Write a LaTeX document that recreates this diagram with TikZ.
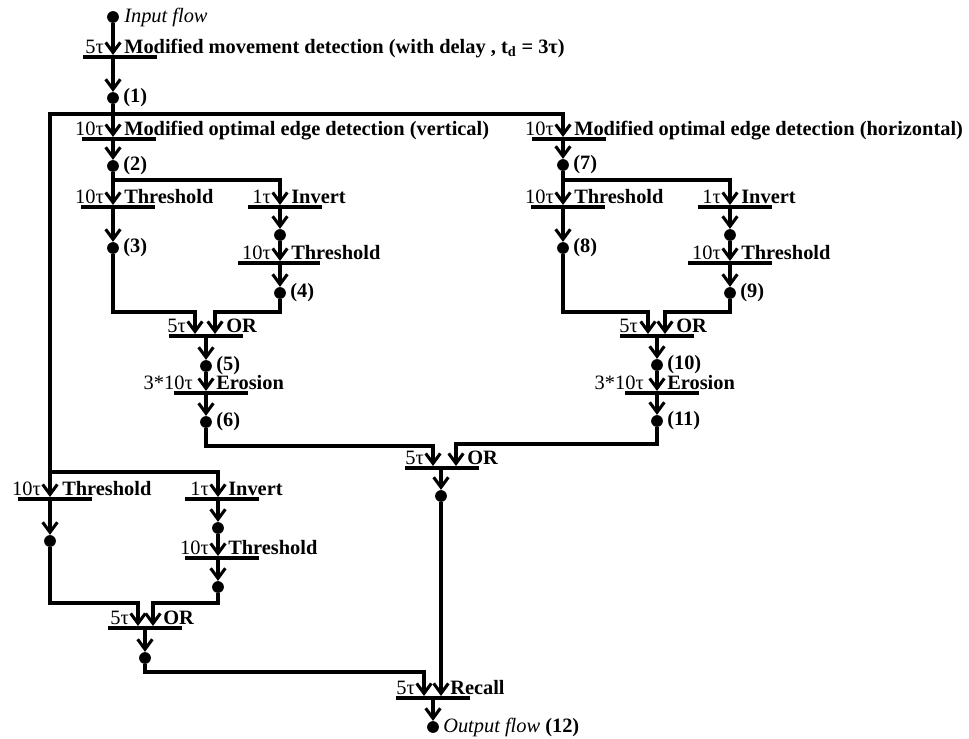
\documentclass[tikz,border=0pt]{standalone}
\usepackage{fontspec}
\setmainfont{Liberation Serif}
\usepackage{tikz}
\usetikzlibrary{arrows.meta, positioning}
\newcommand\fs{\fontsize{15.3}{17}\selectfont}

\begin{document}
\begin{tikzpicture}[x=0.75pt, y=-0.75pt,
    pl/.style={circle, fill=black, inner sep=0pt, minimum size=8.8pt},
    tbar/.style={rectangle, fill=black, inner sep=0pt, minimum height=2.6pt, minimum width=55.5pt},
    dly/.style={font=\fs, inner sep=0pt, anchor=base east},
    lbl/.style={font=\fs\bfseries, inner sep=0pt, anchor=base west},
    num/.style={font=\fs\bfseries, inner sep=0pt, anchor=west},
    wire/.style={line width=2.3pt},
    flow/.style={line width=2.3pt, -{Straight Barb[length=7.5pt, width=11pt]}}
]
    \useasboundingbox (0,0) rectangle (969,738);

    % Entrée et détection de mouvement
    \node[pl] (pin) at (113,17) {};
    \node[font=\fs\itshape, inner sep=0pt, anchor=west] at (124,17) {Input flow};
    \node[tbar] (t1) at (120,57) {};
    \node[dly] at (104,53.5) {5τ};
    \node[lbl] at (124,53.5) {Modified movement detection (with delay , t\textsubscript{d} = 3τ)};
    \node[pl] (p1) at (113,98) {};
    \node[num] at (123,98) {(1)};

    \draw[flow] (pin) -- (t1.north -| pin);
    \draw[flow] (t1.south -| p1) -- (p1);

    % Points de branchement
    \coordinate (jl) at (50,114);
    \coordinate (jr) at (563,114);
    \coordinate (jb) at (50,472);

    % Branche verticale
    \node[tbar] (t2) at (119,139) {};
    \node[dly] at (104,135.5) {10τ};
    \node[lbl] at (124,135.5) {Modified optimal edge detection (vertical)};
    \node[pl] (p2) at (113,166) {};
    \node[num] at (123,166) {(2)};

    \node[tbar] (t3) at (118,207) {};
    \node[dly] at (104,203.5) {10τ};
    \node[lbl] at (124,203.5) {Threshold};
    \node[pl] (p3) at (113,248) {};
    \node[num] at (123,248) {(3)};

    \coordinate (s2) at (280,180);
    \node[tbar] (t3i) at (285,207) {};
    \node[dly] at (271,203.5) {1τ};
    \node[lbl] at (291,203.5) {Invert};
    \node[pl] (p3i) at (280,235) {};
    \node[tbar, minimum width=61.5pt] (t4) at (279,263) {};
    \node[dly] at (271,259.5) {10τ};
    \node[lbl] at (291,259.5) {Threshold};
    \node[pl] (p4) at (280,293) {};
    \node[num] at (290,293) {(4)};

    \coordinate (m3) at (195,312);
    \coordinate (m4) at (215,312);
    \node[tbar] (t5) at (206,336) {};
    \node[dly] at (186,332.5) {5τ};
    \node[lbl] at (226,332.5) {OR};
    \node[pl] (p5) at (206,366) {};
    \node[num] at (216,366) {(5)};

    \node[tbar] (t6) at (211,393) {};
    \node[dly] at (193,389.5) {3*10τ};
    \node[lbl] at (216,389.5) {Erosion};
    \node[pl] (p6) at (206,422) {};
    \node[num] at (216,422) {(6)};

    \draw[flow] (p1) -- (t2.north -| p1);
    \draw[flow] (t2.south -| p2) -- (p2);
    \draw[flow] (p2) -- (t3.north -| p2);
    \draw[flow] (p2) |- (s2) -- (t3i.north -| s2);
    \draw[flow] (t3.south -| p3) -- (p3);
    \draw[flow] (t3i.south -| p3i) -- (p3i);
    \draw[flow] (p3i) -- (t4.north -| p3i);
    \draw[flow] (t4.south -| p4) -- (p4);
    \draw[flow] (p3) |- (m3) -- (t5.north -| m3);
    \draw[flow] (p4) |- (m4) -- (t5.north -| m4);
    \draw[flow] (t5.south -| p5) -- (p5);
    \draw[flow] (p5) -- (t6.north -| p5);
    \draw[flow] (t6.south -| p6) -- (p6);

    % Branche horizontale
    \node[tbar] (t7) at (569,139) {};
    \node[dly] at (554,135.5) {10τ};
    \node[lbl] at (574,135.5) {Modified optimal edge detection (horizontal)};
    \node[pl] (p7) at (563,165) {};
    \node[num] at (573,165) {(7)};

    \node[tbar] (t8) at (568,207) {};
    \node[dly] at (554,203.5) {10τ};
    \node[lbl] at (574,203.5) {Threshold};
    \node[pl] (p8) at (563,248) {};
    \node[num] at (573,248) {(8)};

    \coordinate (s7) at (730,180);
    \node[tbar] (t8i) at (735,207) {};
    \node[dly] at (721,203.5) {1τ};
    \node[lbl] at (741,203.5) {Invert};
    \node[pl] (p8i) at (730,235) {};
    \node[tbar, minimum width=63pt] (t9) at (730,263) {};
    \node[dly] at (721,259.5) {10τ};
    \node[lbl] at (741,259.5) {Threshold};
    \node[pl] (p9) at (730,293) {};
    \node[num] at (740,293) {(9)};

    \coordinate (m8) at (648,312);
    \coordinate (m9) at (665,312);
    \node[tbar] (t10) at (657,336) {};
    \node[dly] at (638,332.5) {5τ};
    \node[lbl] at (676,332.5) {OR};
    \node[pl] (p10) at (657,365) {};
    \node[num] at (667,365) {(10)};

    \node[tbar] (t11) at (662,393) {};
    \node[dly] at (644,389.5) {3*10τ};
    \node[lbl] at (667,389.5) {Erosion};
    \node[pl] (p11) at (657,421) {};
    \node[num] at (667,421) {(11)};

    \draw[flow] (p1) |- (jr) -- (t7.north -| jr);
    \draw[flow] (t7.south -| p7) -- (p7);
    \draw[flow] (p7) -- (t8.north -| p7);
    \draw[flow] (p7) |- (s7) -- (t8i.north -| s7);
    \draw[flow] (t8.south -| p8) -- (p8);
    \draw[flow] (t8i.south -| p8i) -- (p8i);
    \draw[flow] (p8i) -- (t9.north -| p8i);
    \draw[flow] (t9.south -| p9) -- (p9);
    \draw[flow] (p8) |- (m8) -- (t10.north -| m8);
    \draw[flow] (p9) |- (m9) -- (t10.north -| m9);
    \draw[flow] (t10.south -| p10) -- (p10);
    \draw[flow] (p10) -- (t11.north -| p10);
    \draw[flow] (t11.south -| p11) -- (p11);

    % Fusion des deux directions
    \coordinate (m6) at (433,446);
    \coordinate (m11) at (456,444);
    \node[tbar] (t12) at (442,468) {};
    \node[dly] at (424,464.5) {5τ};
    \node[lbl] at (467,464.5) {OR};
    \node[pl] (pc) at (441,496) {};

    \draw[flow] (p6) |- (m6) -- (t12.north -| m6);
    \draw[flow] (p11) |- (m11) -- (t12.north -| m11);
    \draw[flow] (t12.south -| pc) -- (pc);

    % Branche directe (en bas à gauche)
    \node[tbar] (tb1) at (55,499) {};
    \node[dly] at (41,495.5) {10τ};
    \node[lbl] at (62,495.5) {Threshold};
    \node[pl] (pd) at (50,541) {};

    \node[tbar] (tb2) at (222,499) {};
    \node[dly] at (209,495.5) {1τ};
    \node[lbl] at (228,495.5) {Invert};
    \node[pl] (pe) at (218,528) {};
    \node[tbar] (tb3) at (222,558) {};
    \node[dly] at (209,554.5) {10τ};
    \node[lbl] at (228,554.5) {Threshold};
    \node[pl] (pf) at (218,587) {};

    \coordinate (mb1) at (138,603);
    \coordinate (mb2) at (153,603);
    \node[tbar] (tb4) at (145,628) {};
    \node[dly] at (129,624.5) {5τ};
    \node[lbl] at (163,624.5) {OR};
    \node[pl] (pg) at (145,658) {};

    \draw[wire] (p1) |- (jl) -- (jb);
    \draw[flow] (jb) -- (tb1.north -| jb);
    \draw[flow] (jb) -| (tb2.north -| pe);
    \draw[flow] (tb1.south -| pd) -- (pd);
    \draw[flow] (tb2.south -| pe) -- (pe);
    \draw[flow] (pe) -- (tb3.north -| pe);
    \draw[flow] (tb3.south -| pf) -- (pf);
    \draw[flow] (pd) |- (mb1) -- (tb4.north -| mb1);
    \draw[flow] (pf) |- (mb2) -- (tb4.north -| mb2);
    \draw[flow] (tb4.south -| pg) -- (pg);

    % Rappel et sortie
    \coordinate (mg) at (424,672);
    \node[tbar] (rc) at (433,698) {};
    \node[dly] at (415,694.5) {5τ};
    \node[lbl] at (450,694.5) {Recall};
    \node[pl] (p12) at (433,727) {};
    \node[font=\fs, inner sep=0pt, anchor=west] at (443,727) {\textit{Output flow} \textbf{(12)}};

    \draw[flow] (pg) |- (mg) -- (rc.north -| mg);
    \draw[flow] (pc) -- (rc.north -| pc);
    \draw[flow] (rc.south -| p12) -- (p12);
\end{tikzpicture}
\end{document}
